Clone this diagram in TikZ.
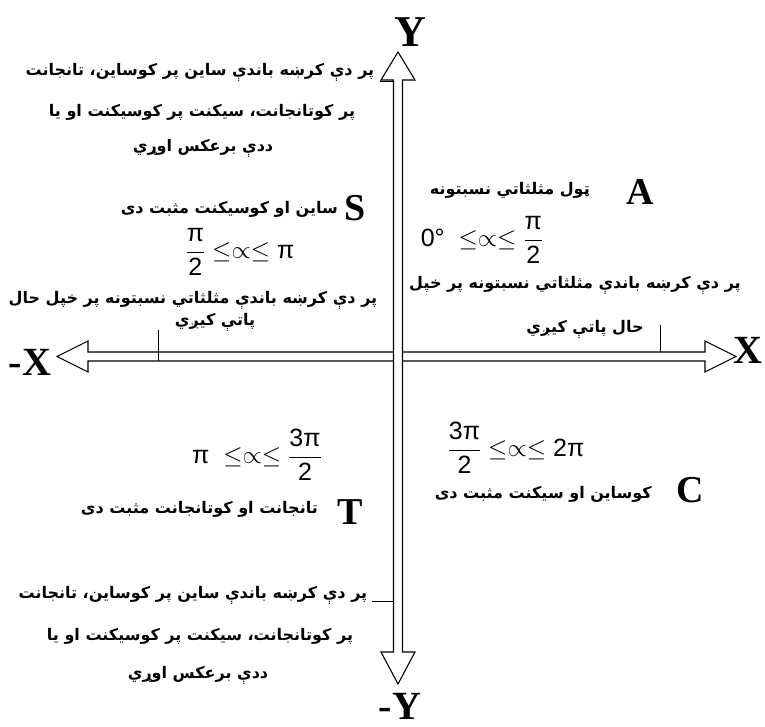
\documentclass[tikz,border=0pt]{standalone}
\usepackage{amsmath}
\usepackage{fontspec}
\setmainfont{Liberation Sans}
\newfontfamily\arabicfont[Script=Arabic]{DejaVu Sans}
\newfontfamily\labfont{Liberation Serif}
\TeXXeTstate=1
\newcommand{\tx}[1]{\text{#1}}
\begin{document}
\begin{tikzpicture}[x=1pt,y=-1pt,
  ar/.style={font=\arabicfont\bfseries\fontsize{16}{20}\selectfont, inner sep=0pt},
  big/.style={font=\labfont\bfseries\fontsize{44}{48}\selectfont, inner sep=0pt},
  mid/.style={font=\labfont\bfseries\fontsize{40}{44}\selectfont, inner sep=0pt},
  quad/.style={font=\labfont\bfseries\fontsize{38}{40}\selectfont, inner sep=0pt},
  frm/.style={font=\fontsize{25}{30}\selectfont, inner sep=0pt},
  axis/.style={draw=black, line width=1.1pt, fill=white, line join=miter},
  conn/.style={draw=black, line width=1pt}]
\useasboundingbox (0,0) rectangle (765,727);
% horizontal axis
\draw[axis] (57,356.5) -- (88,341) -- (88,352) -- (705,352) -- (705,341) -- (736,356.5)
  -- (705,372) -- (705,361) -- (88,361) -- (88,372) -- cycle;
% vertical axis
\draw[axis] (398,52) -- (415,80) -- (402.5,80) -- (402.5,652) -- (415,652) -- (398,684)
  -- (381,652) -- (393.5,652) -- (393.5,80) -- (381,80) -- cycle;
% ticks
\draw[conn] (158,330) -- (158,361);
\draw[conn] (660,325) -- (660,352);
% axis labels
\node[big] (Y) at (410,32) {Y};
\node[mid] (mY) at (400,706) {-Y};
\node[mid] (X) at (748,350) {X};
\node[mid] (mX) at (30,362) {-X};
% quadrant letters
\node[quad] (S) at (355,208) {S};
\node[quad] (A) at (640,192) {A};
\node[quad] (T) at (350,512) {T};
\node[quad] (C) at (690,490) {C};
% top-left note
\node[ar] (tl1) at (200,72) {\beginR پر دې کرښه باندې ساین پر کوساین، تانجانت\endR};
\node[ar] (tl2) at (202,112) {\beginR پر کوتانجانت، سیکنت پر کوسیکنت او یا\endR};
\node[ar] (tl3) at (203,148) {\beginR ددې برعکس اوړي\endR};
\coordinate (tlc) at (380,82);
\draw[conn] (tlc) -- (394,82);
% second quadrant
\node[ar, anchor=east] (stxt) at (338,209) {\beginR ساین او کوسیکنت مثبت دی\endR};
\node[frm] (q2) at (240,252) {$\dfrac{\tx{π}}{\tx{2}}\le\propto\le\tx{π}$};
\node[ar] (llong) at (193,300) {\beginR پر دې کرښه باندې مثلثاتي نسبتونه پر خپل حال\endR};
\node[ar] (lshort) at (215,322) {\beginR پاتې کیږي\endR};
% first quadrant
\node[ar, anchor=east] (atxt) at (590,190) {\beginR ټول مثلثاتي نسبتونه\endR};
\node[frm] (q1) at (482,240) {$\tx{0°}\;\le\propto\le\dfrac{\tx{π}}{\tx{2}}$};
\node[ar] (rlong) at (575,285) {\beginR پر دې کرښه باندې مثلثاتي نسبتونه پر خپل\endR};
\node[ar] (rshort) at (585,329) {\beginR حال پاتې کیږي\endR};
% third quadrant
\node[frm] (q3) at (257,455) {$\tx{π}\;\le\propto\le\dfrac{\tx{3π}}{\tx{2}}$};
\node[ar, anchor=east] (ttxt) at (318,509) {\beginR تانجانت او کوتانجانت مثبت دی\endR};
% fourth quadrant
\node[frm] (q4) at (516,448) {$\dfrac{\tx{3π}}{\tx{2}}\le\propto\le\tx{2π}$};
\node[ar, anchor=east] (ctxt) at (652,494) {\beginR کوساین او سیکنت مثبت دی\endR};
% bottom-left note
\node[ar] (bl1) at (193,595) {\beginR پر دې کرښه باندې ساین پر کوساین، تانجانت\endR};
\node[ar] (bl2) at (200,636) {\beginR پر کوتانجانت، سیکنت پر کوسیکنت او یا\endR};
\node[ar] (bl3) at (198,675) {\beginR ددې برعکس اوړي\endR};
\coordinate (blc) at (372,601);
\draw[conn] (blc) -- (393.5,601);
\end{tikzpicture}
\end{document}
